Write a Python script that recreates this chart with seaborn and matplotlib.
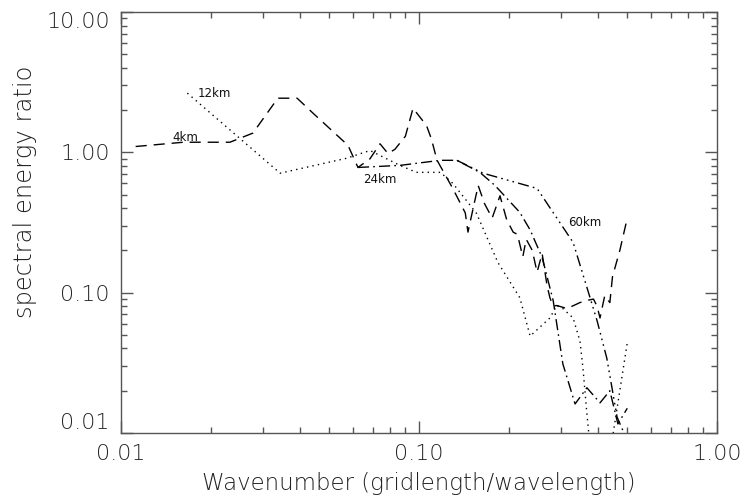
import numpy as np
import pandas as pd
import seaborn as sns
import matplotlib
matplotlib.use('Agg')
import matplotlib.pyplot as plt
from matplotlib.ticker import FixedLocator, LogLocator, NullFormatter

# values (wavenumber, spectral energy ratio)
k_4km = [0.0112, 0.0162, 0.0232, 0.0277, 0.0336, 0.0390, 0.0441, 0.0578, 0.0624,
         0.0685, 0.0740, 0.0787, 0.0830, 0.0900, 0.0955, 0.1060, 0.1100, 0.1149,
         0.130, 0.143, 0.146, 0.152, 0.158, 0.166, 0.176, 0.187, 0.197, 0.207,
         0.214, 0.223, 0.229, 0.240, 0.249, 0.259, 0.269, 0.275, 0.282, 0.290,
         0.314, 0.347, 0.366, 0.385, 0.396, 0.405, 0.420, 0.437, 0.446, 0.472, 0.500]
r_4km = [1.10, 1.18, 1.18, 1.37, 2.43, 2.43, 1.90, 1.12, 0.78,
         0.90, 1.15, 0.98, 1.05, 1.30, 2.06, 1.55, 1.25, 0.88,
         0.55, 0.37, 0.27, 0.40, 0.58, 0.43, 0.34, 0.49, 0.33, 0.27,
         0.26, 0.18, 0.24, 0.20, 0.14, 0.19, 0.112, 0.092, 0.080, 0.081,
         0.077, 0.085, 0.088, 0.090, 0.080, 0.066, 0.095, 0.085, 0.13, 0.20, 0.34]

k_12km = [0.0167, 0.0342, 0.0570, 0.0685, 0.0863, 0.098, 0.118, 0.130, 0.156,
          0.184, 0.218, 0.236, 0.275, 0.290, 0.304, 0.329, 0.347, 0.355, 0.366,
          0.375, 0.405, 0.437, 0.500]
r_12km = [2.64, 0.71, 0.906, 1.03, 0.807, 0.72, 0.72, 0.60, 0.367,
          0.164, 0.092, 0.049, 0.066, 0.081, 0.077, 0.066, 0.045, 0.029, 0.0137,
          0.008, 0.007, 0.007, 0.044]

k_24km = [0.0624, 0.0863, 0.118, 0.134, 0.160, 0.180, 0.218, 0.236, 0.259,
          0.282, 0.304, 0.334, 0.366, 0.405, 0.437, 0.465, 0.500]
r_24km = [0.78, 0.807, 0.877, 0.877, 0.72, 0.58, 0.373, 0.28, 0.178,
          0.088, 0.031, 0.0161, 0.021, 0.0164, 0.020, 0.0116, 0.015]

k_60km = [0.134, 0.164, 0.249, 0.329, 0.366, 0.396, 0.427, 0.462, 0.500]
r_60km = [0.877, 0.71, 0.553, 0.228, 0.109, 0.063, 0.034, 0.013, 0.0088]

series = [
    ('4km', k_4km, r_4km, (0, (8, 5))),
    ('12km', k_12km, r_12km, (0, (1, 3))),
    ('24km', k_24km, r_24km, (0, (8, 3, 1.2, 3))),
    ('60km', k_60km, r_60km, (0, (8, 3, 1.2, 3, 1.2, 3, 1.2, 3))),
]

# label anchors
lab_pos = {'4km': (0.0165, 1.28), '12km': (0.0205, 2.64),
           '24km': (0.074, 0.641), '60km': (0.361, 0.316)}

sns.set_style('white')
plt.rcParams['font.family'] = ['DejaVu Sans']
plt.rcParams['font.weight'] = 'light'
plt.rcParams['axes.labelweight'] = 'light'
ink = '#222222'

fig = plt.figure(figsize=(7.45, 4.97), dpi=100)
ax = fig.add_axes([0.1624, 0.1288, 0.8, 0.8471])

for name, k, r, ls in series:
    df = pd.DataFrame({'k': k, 'r': r})
    sns.lineplot(data=df, x='k', y='r', ax=ax, color='black', linewidth=1.0,
                 linestyle=ls, estimator=None, sort=False)
    tx, ty = lab_pos[name]
    ax.text(tx, ty, name, fontsize=8.5, color='#111111', fontweight='normal',
            ha='center', va='center')

ax.set_xscale('log')
ax.set_yscale('log')
ax.set_xlim(0.01, 1.0)
ax.set_ylim(0.01, 10.0)

ax.xaxis.set_major_locator(FixedLocator([0.01, 0.1, 1.0]))
ax.set_xticklabels(['0.01', '0.10', '1.00'])
ax.yaxis.set_major_locator(FixedLocator([0.01, 0.1, 1.0, 10.0]))
ax.set_yticklabels(['0.01', '0.10', '1.00', '10.00'])
for axis in (ax.xaxis, ax.yaxis):
    axis.set_minor_locator(LogLocator(base=10, subs=np.arange(2, 10), numticks=20))
    axis.set_minor_formatter(NullFormatter())

ax.tick_params(which='both', direction='in', bottom=True, left=True, top=True, right=True,
               color='#555555', labelcolor=ink, labelsize=16, width=1)
ax.tick_params(which='major', length=8.6, pad=8)
ax.tick_params(which='minor', length=4.3)
for sp in ax.spines.values():
    sp.set_color('#555555')
    sp.set_linewidth(1.0)

# IDL keeps the end labels inside the axis range
ylabels = ax.get_yticklabels()
ylabels[0].set_verticalalignment('bottom')
ylabels[-1].set_verticalalignment('top')

ax.set_xlabel('Wavenumber (gridlength/wavelength)', fontsize=16.5, color=ink, labelpad=6)
ax.set_ylabel('spectral energy ratio', fontsize=17.5, color=ink)
ax.yaxis.label.set_verticalalignment('center')
ax.yaxis.label.set_horizontalalignment('center')
ax.yaxis.set_label_coords(-0.161, 0.572)

fig.savefig('out.png', dpi=100)
